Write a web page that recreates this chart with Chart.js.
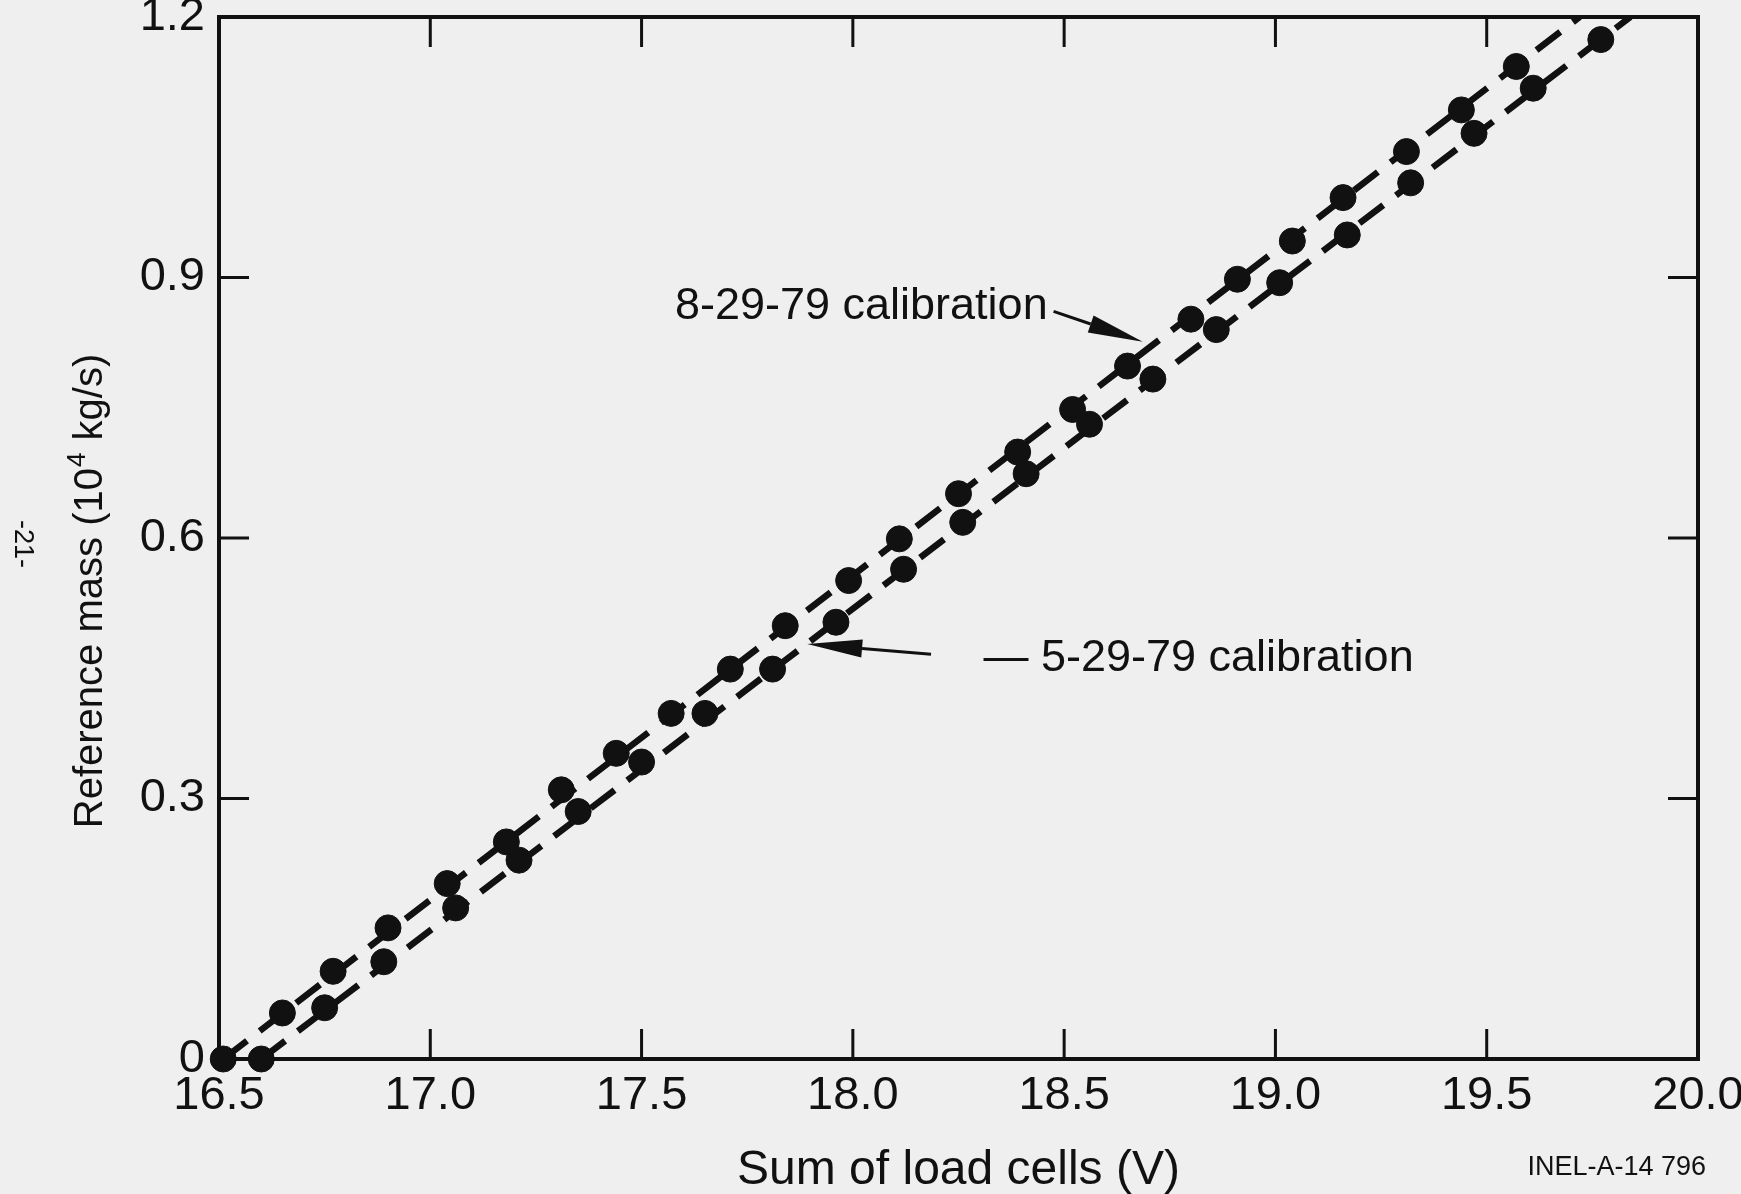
<!DOCTYPE html>
<html>
<head>
<meta charset="utf-8">
<title>Load cell calibration</title>
<script src="https://cdn.jsdelivr.net/npm/chart.js@4.4.0/dist/chart.umd.min.js"></script>
<style>
  html, body { margin: 0; padding: 0; background: #efefef; }
  canvas { display: block; }
</style>
</head>
<body>
<canvas id="calChart" width="1741" height="1194"></canvas>
<script>
// calibration points
const augVolts = [16.51, 16.65, 16.77, 16.90, 17.04, 17.18, 17.31, 17.44, 17.57, 17.71, 17.84, 17.99,
                  18.11, 18.25, 18.39, 18.52, 18.65, 18.80, 18.91, 19.04, 19.16, 19.31, 19.44, 19.57];
const augMass  = [0.000, 0.053, 0.101, 0.151, 0.202, 0.250, 0.310, 0.352, 0.398, 0.449, 0.499, 0.551,
                  0.599, 0.651, 0.699, 0.748, 0.798, 0.852, 0.898, 0.942, 0.992, 1.045, 1.093, 1.143];

const mayVolts = [16.60, 16.75, 16.89, 17.06, 17.21, 17.35, 17.50, 17.65, 17.81, 17.96, 18.12,
                  18.26, 18.41, 18.56, 18.71, 18.86, 19.01, 19.17, 19.32, 19.47, 19.61, 19.77];
const mayMass  = [0.000, 0.059, 0.112, 0.174, 0.229, 0.285, 0.342, 0.398, 0.449, 0.503, 0.564,
                  0.618, 0.674, 0.731, 0.783, 0.840, 0.894, 0.949, 1.009, 1.066, 1.118, 1.174];

// dashed fit lines (end points)
const augFitVolts = [16.51, 19.72];
const augFitMass  = [0, 1.2];
const mayFitVolts = [16.60, 19.84];
const mayFitMass  = [0, 1.2];

const xTicks = [16.5, 17.0, 17.5, 18.0, 18.5, 19.0, 19.5, 20.0];
const yTicks = [0, 0.3, 0.6, 0.9, 1.2];

const INK = '#111111';
const FONT = '"Liberation Sans", Arial, Helvetica, sans-serif';

function toPoints(xs, ys) {
  return xs.map((x, i) => ({ x: x, y: ys[i] }));
}

// box, inward ticks, annotations, titles
const framePlugin = {
  id: 'frame',
  afterDatasetsDraw(chart) {
    const ctx = chart.ctx;
    const a = chart.chartArea;
    const xs = chart.scales.x;
    const ys = chart.scales.y;
    const tick = 30;

    ctx.save();
    ctx.strokeStyle = INK;
    ctx.lineWidth = 4;
    ctx.strokeRect(a.left, a.top, a.right - a.left, a.bottom - a.top);

    ctx.lineWidth = 3;
    ctx.beginPath();
    xTicks.slice(1, -1).forEach(v => {
      const px = xs.getPixelForValue(v);
      ctx.moveTo(px, a.bottom); ctx.lineTo(px, a.bottom - tick);
      ctx.moveTo(px, a.top); ctx.lineTo(px, a.top + tick);
    });
    yTicks.slice(1, -1).forEach(v => {
      const py = ys.getPixelForValue(v);
      ctx.moveTo(a.left, py); ctx.lineTo(a.left + tick, py);
      ctx.moveTo(a.right, py); ctx.lineTo(a.right - tick, py);
    });
    ctx.stroke();

    // arrows
    function arrow(x0, y0, x1, y1) {
      const px0 = xs.getPixelForValue(x0), py0 = ys.getPixelForValue(y0);
      const px1 = xs.getPixelForValue(x1), py1 = ys.getPixelForValue(y1);
      const ang = Math.atan2(py1 - py0, px1 - px0);
      const len = 55, half = 9;
      const bx = px1 - len * Math.cos(ang), by = py1 - len * Math.sin(ang);
      ctx.lineWidth = 3;
      ctx.beginPath();
      ctx.moveTo(px0, py0);
      ctx.lineTo(bx, by);
      ctx.stroke();
      ctx.beginPath();
      ctx.moveTo(px1, py1);
      ctx.lineTo(bx + half * Math.sin(ang), by - half * Math.cos(ang));
      ctx.lineTo(bx - half * Math.sin(ang), by + half * Math.cos(ang));
      ctx.closePath();
      ctx.fill();
    }
    ctx.fillStyle = INK;
    arrow(18.475, 0.861, 18.686, 0.826);
    arrow(18.185, 0.466, 17.892, 0.478);

    ctx.font = '45px ' + FONT;
    ctx.textBaseline = 'middle';
    ctx.textAlign = 'right';
    ctx.fillText('8-29-79 calibration', xs.getPixelForValue(18.461), ys.getPixelForValue(0.866));
    ctx.textAlign = 'left';
    ctx.fillText('\u2014 5-29-79 calibration', xs.getPixelForValue(18.309), ys.getPixelForValue(0.4615));

    // x title
    ctx.font = '48px ' + FONT;
    ctx.textAlign = 'center';
    ctx.fillText('Sum of load cells (V)', (a.left + a.right) / 2, 1171);

    // y title with superscript
    ctx.save();
    ctx.translate(91, 592);
    ctx.rotate(-Math.PI / 2);
    const big = '40px ' + FONT, small = '26px ' + FONT;
    const p1 = 'Reference mass (10', p2 = '4', p3 = ' kg/s)';
    ctx.font = big;
    const w1 = ctx.measureText(p1).width, w3 = ctx.measureText(p3).width;
    ctx.font = small;
    const w2 = ctx.measureText(p2).width;
    let x = -(w1 + w2 + w3) / 2;
    ctx.textAlign = 'left';
    ctx.font = big;
    ctx.fillText(p1, x, 0);
    x += w1;
    ctx.font = small;
    ctx.fillText(p2, x + 1, -13);
    x += w2 + 2;
    ctx.font = big;
    ctx.fillText(p3, x, 0);
    ctx.restore();

    // page number and figure id
    ctx.save();
    ctx.translate(22, 544);
    ctx.rotate(Math.PI / 2);
    ctx.font = '27px ' + FONT;
    ctx.textAlign = 'center';
    ctx.fillText('-21-', 0, 0);
    ctx.restore();

    ctx.font = '27px ' + FONT;
    ctx.textAlign = 'right';
    ctx.fillText('INEL-A-14 796', 1706, 1168);
    ctx.restore();
  }
};

const chart = new Chart(document.getElementById('calChart'), {
  type: 'scatter',
  data: {
    datasets: [
      {
        label: '8-29-79 fit',
        type: 'line',
        data: toPoints(augFitVolts, augFitMass),
        borderColor: INK,
        borderWidth: 6.5,
        borderDash: [30, 16],
        pointRadius: 0,
        fill: false
      },
      {
        label: '5-29-79 fit',
        type: 'line',
        data: toPoints(mayFitVolts, mayFitMass),
        borderColor: INK,
        borderWidth: 6.5,
        borderDash: [30, 16],
        pointRadius: 0,
        fill: false
      },
      {
        label: '8-29-79 calibration',
        data: toPoints(augVolts, augMass),
        backgroundColor: INK,
        borderColor: INK,
        pointRadius: 13,
        clip: false
      },
      {
        label: '5-29-79 calibration',
        data: toPoints(mayVolts, mayMass),
        backgroundColor: INK,
        borderColor: INK,
        pointRadius: 13,
        clip: false
      }
    ]
  },
  options: {
    responsive: false,
    animation: false,
    layout: { padding: { left: 0, right: 43, top: 17, bottom: 0 } },
    plugins: {
      legend: { display: false },
      tooltip: { enabled: false }
    },
    scales: {
      x: {
        type: 'linear',
        min: 16.5,
        max: 20.0,
        afterBuildTicks: s => { s.ticks = xTicks.map(v => ({ value: v })); },
        afterFit: s => { s.height = 135; s.paddingLeft = 0; s.paddingRight = 0; },
        grid: { display: false },
        border: { display: false },
        ticks: {
          color: INK,
          font: { family: FONT, size: 47 },
          padding: 1,
          maxRotation: 0,
          callback: v => v.toFixed(1)
        }
      },
      y: {
        type: 'linear',
        min: 0,
        max: 1.2,
        afterBuildTicks: s => { s.ticks = yTicks.map(v => ({ value: v })); },
        afterFit: s => { s.width = 219; s.paddingTop = 0; s.paddingBottom = 0; },
        grid: { display: false },
        border: { display: false },
        ticks: {
          color: INK,
          font: { family: FONT, size: 47 },
          padding: 6,
          callback: v => (v === 0 ? '0' : v.toFixed(1))
        }
      }
    }
  },
  plugins: [framePlugin]
});
</script>
</body>
</html>
